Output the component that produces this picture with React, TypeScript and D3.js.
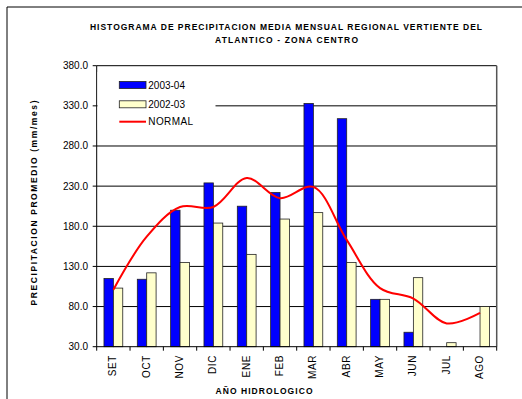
import React from 'react';
import * as d3 from 'd3';

const months = ['SET', 'OCT', 'NOV', 'DIC', 'ENE', 'FEB', 'MAR', 'ABR', 'MAY', 'JUN', 'JUL', 'AGO'];
const serie2003: (number | null)[] = [115, 114, 200, 234, 205, 222, 333, 314, 89, 48, null, null];
const serie2002: number[] = [103, 122, 135, 184, 145, 189, 197, 135, 89, 116, 35, 80];
const normal: number[] = [101, 167, 204, 204, 240, 215, 229, 163, 103, 90, 59, 72];
const yTicks = [30, 80, 130, 180, 230, 280, 330, 380];

const W = 522, H = 399;
const left = 96.7, right = 496.7, top = 65.7, bottom = 346.7;
const font = 'Liberation Sans, Arial, sans-serif';

export default function App() {
  const x = d3.scaleBand<string>().domain(months).range([left, right]);
  const y = d3.scaleLinear().domain([30, 380]).range([bottom, top]);
  const bw = x.bandwidth() / 3.55;

  const line = d3.line<number>()
    .x((_, i) => (x(months[i]) as number) + x.bandwidth() / 2)
    .y(d => y(d))
    .curve(d3.curveCatmullRom.alpha(0.5));

  return (
    <div style={{ position: 'absolute', left: 0, top: 0 }}>
      <svg width={W} height={H} style={{ display: 'block', fontFamily: font }}>
        <rect x={0} y={0} width={W} height={H} fill="#fff" />
        {/* outer frame */}
        <line x1={7} y1={7} x2={W} y2={7} stroke="#000" strokeWidth={1} />
        <line x1={7} y1={7} x2={7} y2={H} stroke="#000" strokeWidth={1} />

        {/* title */}
        <text x={286} y={30} textAnchor="middle" fontSize={8.5} fontWeight="bold"
          textLength={392} lengthAdjust="spacing">
          HISTOGRAMA DE PRECIPITACION MEDIA MENSUAL REGIONAL VERTIENTE DEL
        </text>
        <text x={286.5} y={43} textAnchor="middle" fontSize={8.5} fontWeight="bold"
          textLength={143} lengthAdjust="spacing">
          ATLANTICO - ZONA CENTRO
        </text>

        {/* grid */}
        {yTicks.map(t => (
          <g key={t}>
            {t > 30 && (
              <line x1={left} x2={right} y1={y(t)} y2={y(t)} stroke="#000" strokeWidth={1} />
            )}
            <line x1={left - 4} x2={left} y1={y(t)} y2={y(t)} stroke="#000" />
            <text x={88} y={y(t) + 3.5} textAnchor="end" fontSize={10}>{t.toFixed(1)}</text>
          </g>
        ))}
        <line x1={right} x2={right} y1={top} y2={bottom} stroke="#555" strokeWidth={1.5} />

        {/* bars */}
        {months.map((m, i) => {
          const cx = (x(m) as number) + x.bandwidth() / 2;
          const b = serie2003[i];
          return (
            <g key={m}>
              {b !== null && (
                <rect x={cx - bw} y={y(b)} width={bw} height={bottom - y(b)}
                  fill="#0000ff" stroke="#222" strokeWidth={0.8} />
              )}
              <rect x={cx} y={y(serie2002[i])} width={bw} height={bottom - y(serie2002[i])}
                fill="#ffffcc" stroke="#222" strokeWidth={0.8} />
            </g>
          );
        })}

        {/* normal line */}
        <path d={line(normal) as string} fill="none" stroke="#ff0000" strokeWidth={2} />

        {/* axes */}
        <line x1={left} x2={left} y1={top} y2={bottom + 4} stroke="#000" />
        <line x1={left} x2={right} y1={bottom} y2={bottom} stroke="#000" />
        {months.map(m => (
          <line key={'t' + m} x1={(x(m) as number) + x.bandwidth()} x2={(x(m) as number) + x.bandwidth()}
            y1={bottom} y2={bottom + 4} stroke="#000" />
        ))}
        {months.map(m => {
          const cx = (x(m) as number) + x.bandwidth() / 2 + 3;
          return (
            <text key={'l' + m} transform={`translate(${cx},355) rotate(-90)`} textAnchor="end"
              fontSize={10} letterSpacing={0.6}>{m}</text>
          );
        })}

        {/* legend */}
        <rect x={97.5} y={72} width={118} height={58} fill="#fff" />
        <rect x={119.3} y={81.5} width={26.7} height={7} fill="#0000ff" stroke="#222" strokeWidth={0.8} />
        <text x={148.3} y={88.5} fontSize={10}>2003-04</text>
        <rect x={119.3} y={100.8} width={26.7} height={7} fill="#ffffcc" stroke="#222" strokeWidth={0.8} />
        <text x={148.3} y={107.8} fontSize={10}>2002-03</text>
        <line x1={119.3} x2={146} y1={121.7} y2={121.7} stroke="#ff0000" strokeWidth={2} />
        <text x={148.3} y={125.2} fontSize={10} letterSpacing={0.4}>NORMAL</text>

        {/* axis titles */}
        <text x={264} y={393.5} textAnchor="middle" fontSize={8.5} fontWeight="bold"
          textLength={97} lengthAdjust="spacing">AÑO HIDROLOGICO</text>
        <text transform="translate(37,203) rotate(-90)" textAnchor="middle" fontSize={8.5}
          fontWeight="bold" textLength={205} lengthAdjust="spacing">PRECIPITACION PROMEDIO (mm/mes)</text>
      </svg>
    </div>
  );
}
